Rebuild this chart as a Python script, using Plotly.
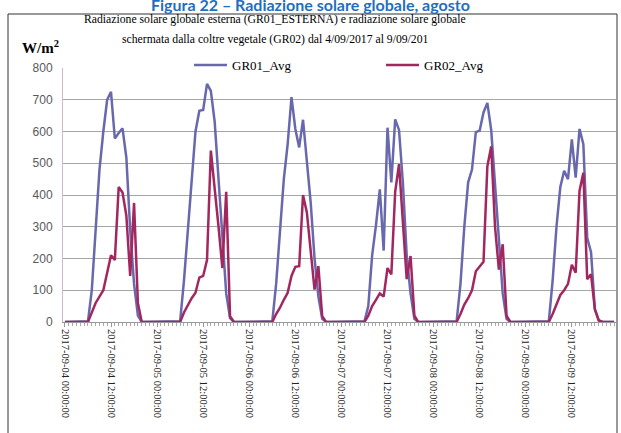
import pandas as pd
import plotly.graph_objects as go

# ---- data (hourly averages, W/m2) ----
start = "2017-09-04 00:00:00"
gr01_day1 = [0,0,0,0,0,0,2,100,290,480,600,700,725,578,595,610,518,290,120,20,0,0,0,0]
gr01_day2 = [0,0,0,0,0,0,2,130,290,450,600,665,668,750,728,630,450,240,90,12,0,0,0,0]
gr01_day3 = [0,0,0,0,0,0,2,120,300,450,560,708,608,550,637,500,376,200,80,10,0,0,0,0]
gr01_day4 = [0,0,0,0,0,0,2,50,210,305,418,225,612,440,638,605,440,210,90,10,0,0,0,0]
gr01_day5 = [0,0,0,0,0,0,2,120,300,440,480,598,603,660,690,605,430,240,90,10,0,0,0,0]
gr01_day6 = [0,0,0,0,0,0,2,130,300,425,476,450,575,455,608,560,265,220,40,5,0,0,0,0]

gr02_day1 = [0,0,0,0,0,0,0,30,60,80,100,155,210,195,425,408,335,145,375,60,0,0,0,0]
gr02_day2 = [0,0,0,0,0,0,0,30,55,75,92,140,145,195,540,430,300,170,410,18,0,0,0,0]
gr02_day3 = [0,0,0,0,0,0,0,25,45,70,92,145,174,176,400,345,230,102,176,18,0,0,0,0]
gr02_day4 = [0,0,0,0,0,0,0,20,50,70,90,80,170,150,410,497,325,135,208,20,0,0,0,0]
gr02_day5 = [0,0,0,0,0,0,0,25,55,75,100,160,175,190,490,553,300,165,245,20,0,0,0,0]
gr02_day6 = [0,0,0,0,0,0,0,25,55,85,100,120,180,155,413,470,135,150,40,5,0,0,0,0]

gr01 = gr01_day1 + gr01_day2 + gr01_day3 + gr01_day4 + gr01_day5 + gr01_day6
gr02 = gr02_day1 + gr02_day2 + gr02_day3 + gr02_day4 + gr02_day5 + gr02_day6
times = pd.date_range(start, periods=len(gr01), freq="h")

W, H = 621, 433
L, R, T, B = 63, 5, 68, 111
pw, ph = W - L - R, H - T - B

def px(x):
    return (x - L) / pw

def py(y):
    return (H - B - y) / ph

fig = go.Figure()
fig.add_trace(go.Scatter(x=times, y=gr01, mode="lines", name="GR01_Avg",
                         line=dict(color="#6868AE", width=2.5)))
fig.add_trace(go.Scatter(x=times, y=gr02, mode="lines", name="GR02_Avg",
                         line=dict(color="#A3275F", width=2.5)))

fig.update_layout(
    width=W, height=H,
    margin=dict(l=L, r=R, t=T, b=B, autoexpand=False),
    paper_bgcolor="white", plot_bgcolor="white",
    showlegend=True,
    legend=dict(orientation="h", x=189 / W, y=1 - 50 / H, xref="container", yref="container",
                xanchor="left", yanchor="top",
                font=dict(family="Liberation Serif", size=13, color="#000"),
                entrywidth=144, entrywidthmode="pixels", bgcolor="rgba(0,0,0,0)",
                itemwidth=33),
)
fig.update_xaxes(
    type="date", automargin=False,
    range=["2017-09-03 23:30:00", "2017-09-09 23:30:00"],
    tick0="2017-09-04 00:00:00", dtick=12 * 3600 * 1000,
    tickformat="%Y-%m-%d %H:%M:%S", tickangle=90,
    tickfont=dict(family="Liberation Serif", size=10.5, color="#222"),
    ticks="outside", ticklen=4, tickcolor="#999",
    minor=dict(dtick=3600 * 1000, ticks="outside", ticklen=3, tickcolor="#aaa"),
    showgrid=False, showline=True, linecolor="#999", linewidth=1,
    zeroline=False,
)
fig.update_yaxes(
    range=[0, 800], dtick=100, automargin=False,
    tickfont=dict(family="Liberation Sans", size=12, color="#595959"),
    showgrid=True, gridcolor="#A6A6A6", gridwidth=1,
    showline=True, linecolor="#D0B8C8", linewidth=1,
    zeroline=False, ticks="", ticklabelstandoff=7,
)

# border of the chart box
fig.add_shape(type="rect", xref="paper", yref="paper",
              x0=px(8), x1=px(617), y0=py(445), y1=py(14),
              line=dict(color="#333", width=1), fillcolor="rgba(0,0,0,0)", layer="below")

# header (cut at top, as in the source page)
fig.add_annotation(text="Figura 22 – Radiazione solare globale, agosto",
                   xref="paper", yref="paper", x=px(310), y=py(4),
                   xanchor="center", yanchor="middle", showarrow=False,
                   font=dict(family="Lato", size=16, color="#1E6FC0", weight="bold"))

# chart title lines
fig.add_annotation(text="Radiazione solare globale esterna (GR01_ESTERNA) e radiazione solare globale",
                   xref="paper", yref="paper", x=px(275), y=py(20),
                   xanchor="center", yanchor="middle", showarrow=False,
                   font=dict(family="Liberation Serif", size=11.7, color="#000"))
fig.add_annotation(text="schermata dalla coltre vegetale (GR02) dal 4/09/2017 al 9/09/201",
                   xref="paper", yref="paper", x=px(275), y=py(40),
                   xanchor="center", yanchor="middle", showarrow=False,
                   font=dict(family="Liberation Serif", size=11.7, color="#000"))
# unit label
fig.add_annotation(text="<b>W/m<sup>2</sup></b>",
                   xref="paper", yref="paper", x=px(20), y=py(47),
                   xanchor="left", yanchor="middle", showarrow=False,
                   font=dict(family="Liberation Serif", size=15, color="#000"))

fig.write_html("out.html", config={"displayModeBar": False},
               post_script="document.body.style.margin='0';document.body.style.overflow='hidden';")
